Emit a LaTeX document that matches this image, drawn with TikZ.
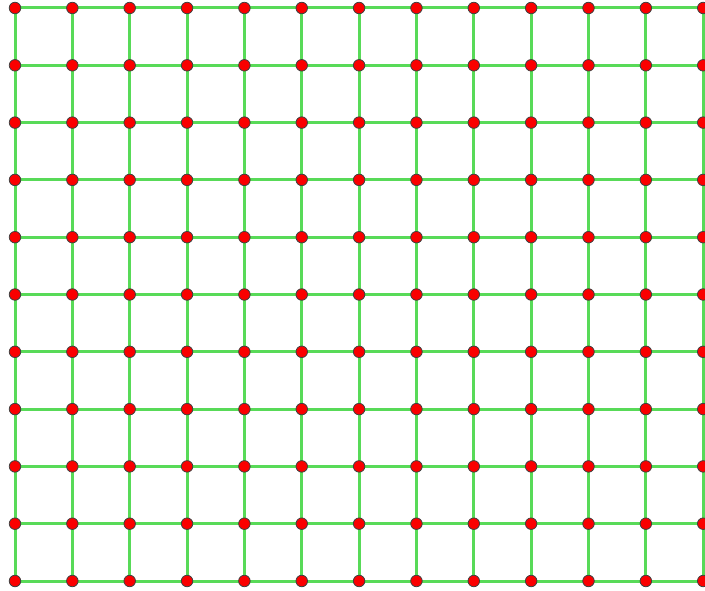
\documentclass[tikz,border=0pt]{standalone}
\usepackage{xcolor}
\usepackage{tikz}

\definecolor{gridgreen}{RGB}{88,218,88}
\definecolor{dotred}{RGB}{250,0,0}

\begin{document}
\begin{tikzpicture}[x=1pt,y=-1pt,
  dot/.style={circle,draw=black!75,line width=0.8pt,fill=dotred,inner sep=0pt,minimum size=11.5pt},
  gridline/.style={draw=gridgreen,line width=3pt}]
  % 13 x 11 lattice of points, spacing 57.35 (drawn in pixel units)
  \useasboundingbox (0,0) rectangle (705,591);
  \fill[white] (0,0) rectangle (705,591);
  \def\dx{57.35}
  \foreach \i in {0,...,12}
    \foreach \j in {0,...,10}
      \coordinate (p-\i-\j) at (15+\dx*\i,8+57.3*\j);
  \foreach \j in {0,...,10}
    \foreach \i in {0,...,11}{
      \pgfmathtruncatemacro\k{\i+1}
      \draw[gridline] (p-\i-\j) -- (p-\k-\j);
    }
  \foreach \i in {0,...,12}
    \foreach \j in {0,...,9}{
      \pgfmathtruncatemacro\k{\j+1}
      \draw[gridline] (p-\i-\j) -- (p-\i-\k);
    }
  \foreach \i in {0,...,12}
    \foreach \j in {0,...,10}
      \node[dot] (d-\i-\j) at (p-\i-\j) {};
\end{tikzpicture}
\end{document}
